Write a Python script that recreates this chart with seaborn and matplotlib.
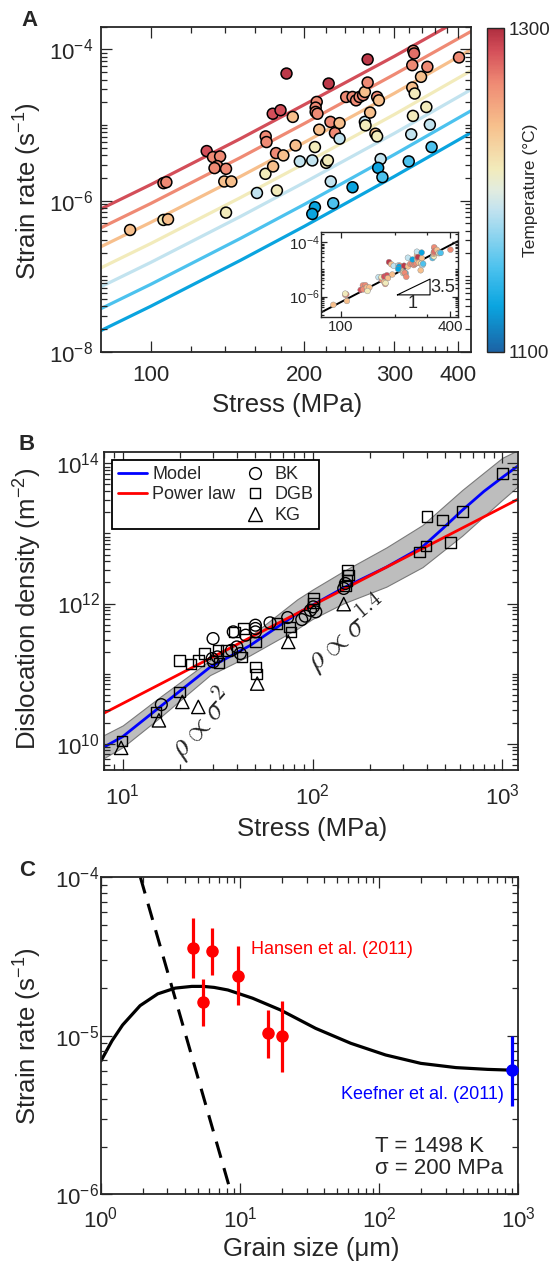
import numpy as np
import pandas as pd
import matplotlib
matplotlib.use("Agg")
import matplotlib.pyplot as plt
import matplotlib.ticker as mticker
from matplotlib.colors import LinearSegmentedColormap, Normalize
from matplotlib.cm import ScalarMappable
from matplotlib.lines import Line2D
import seaborn as sns

### DATA ###

# A: experiments (stress in MPa, strain rate in 1/s, temperature in C)
a_stress = [91.2, 106.0, 107.4, 106.0, 108.2, 128.8, 132.5, 136.8, 135.1, 133.4,
            140.5, 139.4, 143.9, 140.5, 161.5, 168.0, 168.6, 167.8, 173.4, 179.6,
            176.0, 181.9, 173.7, 176.7, 184.5, 189.8, 192.2, 195.9, 207.2, 209.7,
            211.4, 210.4, 210.4, 212.1, 213.8, 220.6, 222.3, 225.2, 209.7, 207.2,
            227.7, 223.1, 224.9, 229.5, 234.3, 234.3, 241.4, 248.4, 252.4, 256.4,
            260.5, 262.6, 248.4, 262.6, 263.4, 265.9, 265.9, 268.9, 277.5, 279.7,
            275.4, 277.5, 281.9, 278.8, 284.2, 320.0, 323.6, 326.1, 325.1, 328.7,
            325.1, 326.6, 327.8, 338.2, 348.0, 346.4, 351.9, 354.7, 401.3]
a_rate = [4.08e-7, 1.70e-6, 1.75e-6, 5.54e-7, 5.65e-7, 4.52e-6, 3.76e-6, 3.84e-6, 2.86e-6, 2.69e-6,
          2.63e-6, 1.79e-6, 1.79e-6, 6.93e-7, 1.26e-6, 7.07e-6, 5.95e-6, 2.26e-6, 1.41e-5, 1.57e-5,
          4.25e-6, 3.96e-6, 2.83e-6, 1.36e-6, 4.80e-5, 1.28e-5, 5.37e-6, 3.30e-6, 3.40e-6, 5.11e-6,
          2.02e-5, 1.70e-5, 1.49e-5, 1.41e-5, 8.67e-6, 3.16e-6, 3.40e-6, 1.79e-6, 8.16e-7, 6.65e-7,
          9.22e-7, 3.54e-5, 1.10e-5, 7.83e-6, 1.06e-5, 6.59e-6, 2.35e-5, 2.35e-5, 2.12e-5, 2.35e-5,
          2.48e-5, 2.74e-5, 1.50e-6, 1.10e-5, 9.90e-6, 3.65e-5, 7.37e-5, 1.46e-5, 2.35e-5, 2.12e-5,
          7.67e-6, 7.07e-6, 3.54e-6, 2.71e-6, 2.04e-6, 3.30e-6, 7.52e-6, 1.32e-5, 3.13e-5, 2.61e-5,
          6.19e-5, 9.60e-5, 8.85e-5, 4.34e-5, 5.89e-5, 1.73e-5, 1.01e-5, 5.11e-6, 7.83e-5]
a_temp = [1240, 1266, 1266, 1213, 1240, 1286, 1266, 1266, 1266, 1266,
          1266, 1240, 1240, 1213, 1188, 1266, 1266, 1213, 1286, 1286,
          1266, 1240, 1240, 1213, 1295, 1240, 1240, 1188, 1188, 1213,
          1266, 1266, 1266, 1266, 1240, 1213, 1213, 1188, 1128, 1128,
          1152, 1295, 1266, 1266, 1240, 1188, 1266, 1266, 1266, 1266,
          1266, 1240, 1128, 1188, 1213, 1266, 1295, 1240, 1266, 1240,
          1240, 1213, 1188, 1128, 1152, 1152, 1188, 1213, 1240, 1213,
          1266, 1266, 1275, 1240, 1266, 1213, 1188, 1152, 1266]

# A: model curves, log10 strain rate at a_curve_stress, one row per temperature
a_curve_temp = [1128, 1152, 1188, 1213, 1240, 1266, 1286]
a_curve_stress = [80, 100, 150, 200, 300, 424]
a_curve_log_rate = [
    [-7.72, -7.40, -6.79, -6.34, -5.68, -5.10],
    [-7.43, -7.11, -6.50, -6.05, -5.39, -4.81],
    [-7.14, -6.82, -6.21, -5.76, -5.11, -4.53],
    [-6.89, -6.57, -5.96, -5.51, -4.86, -4.28],
    [-6.61, -6.29, -5.68, -5.23, -4.58, -4.00],
    [-6.36, -6.04, -5.43, -4.98, -4.33, -3.76],
    [-6.11, -5.79, -5.18, -4.73, -4.09, -3.52],
]

# A inset: rates shifted to one reference temperature (log10 shift above the coldest curve)
inset_ref_shift = 1.19
inset_fit_stress = [78, 440]
inset_fit_rate = [2.58e-7, 1.10e-4]
inset_tri_stress = [205, 310, 310, 205]
inset_tri_rate = [1.15e-6, 1.15e-6, 4.4e-6, 1.15e-6]

# colour scale
cb_temps = [1100, 1128, 1152, 1188, 1200, 1213, 1240, 1266, 1286, 1300]
cb_colors = ["#1b63a5", "#0aa5e0", "#4dc2ee", "#c3e3ef", "#e2ecdf",
             "#f2ebbb", "#f7c08c", "#ef8b74", "#d5505a", "#b02e40"]

# B: dislocation density vs stress
bk_stress = [15.96, 29.9, 29.6, 30.0, 31.5, 37.4, 39.9, 41.6, 38.2, 44.4, 50.0, 50.0, 50.0,
             59.7, 73.9, 87.7, 91.5, 97.5, 100.9, 104, 146, 149]
bk_rho = [3.6e10, 3.16e11, 1.64e11, 1.47e11, 1.73e11, 2.15e11, 2.40e11, 1.93e11, 3.94e11, 3.53e11,
          4.9e11, 4.4e11, 3.94e11, 5.3e11, 6.3e11, 5.9e11, 6.6e11, 8.0e11, 8.96e11, 7.6e11,
          1.64e12, 1.93e12]
dgb_stress = [9.9, 15.0, 19.9, 19.9, 22.9, 25.0, 27.0, 31.8, 32.2, 35.1, 38.7, 43.4, 42.5,
              50.0, 50.0, 50.8, 65.0, 75.5, 77.1, 100.9, 100.9, 149, 154.5, 152.5, 152,
              365, 397, 402, 485, 535, 615, 1000]
dgb_rho = [1.09e10, 2.83e10, 5.47e10, 1.55e11, 1.36e11, 1.55e11, 1.93e11, 2.15e11, 1.42e11,
           2.15e11, 3.94e11, 4.4e11, 1.73e11, 2.83e11, 1.24e11, 9.8e10, 5.2e11, 4.6e11,
           3.94e11, 1.18e12, 1.02e12, 1.77e12, 2.54e12, 2.99e12, 2.15e12, 5.47e12, 6.6e12,
           1.73e13, 1.55e13, 7.36e12, 2.04e13, 7.2e13]
kg_stress = [9.8, 15.5, 20.6, 25.0, 51.1, 74.5, 146]
kg_rho = [8.7e9, 2.15e10, 3.94e10, 3.34e10, 7.2e10, 2.83e11, 9.8e11]

model_stress = [7.94, 10, 15.8, 28.8, 46.8, 83.2, 100, 145, 245, 380, 485, 615, 800, 1000, 1230]
model_rho = [8.9e9, 1.26e10, 3.39e10, 1.23e11, 2.51e11, 7.2e11, 9.5e11, 1.66e12, 3.31e12,
             6.46e12, 1.17e13, 2.14e13, 3.98e13, 6.31e13, 9.5e13]
power_stress = [8, 1216]
power_rho = [2.74e10, 3.1e13]
band_stress = [7.94, 10, 15.8, 28.8, 46.8, 83.2, 100, 145, 245, 380, 615, 1000, 1230]
band_low = [6.2e9, 8.9e9, 2.4e10, 9.5e10, 1.82e11, 4.37e11, 6.03e11, 1.0e12, 1.74e12,
            3.31e12, 9.3e12, 3.02e13, 4.9e13]
band_high = [1.32e10, 1.82e10, 4.68e10, 1.55e11, 3.39e11, 1.15e12, 1.58e12, 2.88e12,
             6.31e12, 1.32e13, 4.17e13, 1.2e14, 1.58e14]

# C: strain rate vs grain size
c_model_size = [1.0, 1.2, 1.43, 1.91, 2.56, 3.42, 4.5, 5.44, 6.5, 8.17, 12.3, 19.5, 34.9,
                62.4, 111, 199, 356, 600, 1000]
c_model_rate = [6.95e-6, 9.3e-6, 1.17e-5, 1.55e-5, 1.84e-5, 2.0e-5, 2.05e-5, 2.05e-5, 2.02e-5,
                1.945e-5, 1.726e-5, 1.455e-5, 1.114e-5, 8.97e-6, 7.57e-6, 6.70e-6, 6.30e-6,
                6.14e-6, 6.05e-6]
c_dash_size = [1.92, 8.66]
c_dash_rate = [1e-4, 1e-6]
hansen_size = [4.57, 5.38, 6.26, 9.62, 15.9, 19.9]
hansen_rate = [3.6e-5, 1.63e-5, 3.43e-5, 2.40e-5, 1.04e-5, 9.9e-6]
hansen_low = [2.31e-5, 1.16e-5, 2.42e-5, 1.57e-5, 7.2e-6, 5.9e-6]
hansen_high = [5.57e-5, 2.29e-5, 4.77e-5, 3.66e-5, 1.46e-5, 1.66e-5]
keefner_size = [900]
keefner_rate = [6.08e-6]
keefner_low = [3.62e-6]
keefner_high = [1.0e-5]

### STYLE ###

W, H = 550, 1270
INK = "#262626"

sns.set_theme(style="white")
plt.rcParams["font.family"] = ["Liberation Sans", "DejaVu Sans"]
plt.rcParams.update({
    "mathtext.fontset": "custom",
    "mathtext.rm": "Liberation Sans",
    "mathtext.it": "Liberation Sans:italic",
    "mathtext.bf": "Liberation Sans:bold",
    "text.color": INK,
    "axes.labelcolor": INK,
    "axes.axisbelow": False,
    "xtick.bottom": True, "xtick.top": True,
    "ytick.left": True, "ytick.right": True,
    "xtick.direction": "in", "ytick.direction": "in",
    "xtick.major.size": 8, "ytick.major.size": 8,
    "xtick.minor.size": 4.5, "ytick.minor.size": 4.5,
    "xtick.major.width": 0.9, "ytick.major.width": 0.9,
    "xtick.minor.width": 0.9, "ytick.minor.width": 0.9,
    "xtick.color": INK, "ytick.color": INK,
})

cmap = LinearSegmentedColormap.from_list(
    "temp", [((t - 1100) / 200, c) for t, c in zip(cb_temps, cb_colors)])
norm = Normalize(1100, 1300)


def rect(l, t, r, b):
    return [l / W, 1 - b / H, (r - l) / W, (b - t) / H]


def fxy(x, y):
    return x / W, 1 - y / H


def frame(ax, lab=16, major=8, minor=4.5):
    for s in ax.spines.values():
        s.set_linewidth(1.3)
        s.set_color(INK)
    ax.tick_params(which="both", direction="in", top=True, right=True, bottom=True,
                   left=True, width=0.9, color=INK, labelcolor=INK, labelsize=lab)
    ax.tick_params(which="major", length=major)
    ax.tick_params(which="minor", length=minor)


def log_ticks(axis, base, subs=np.arange(1, 10)):
    axis.set_major_locator(mticker.LogLocator(base=base))
    axis.set_major_formatter(mticker.LogFormatterSciNotation())
    axis.set_minor_locator(mticker.LogLocator(base=10, subs=subs, numticks=60))
    axis.set_minor_formatter(mticker.NullFormatter())


fig = plt.figure(figsize=(W / 100, H / 100), dpi=100)

### A ###

ax = fig.add_axes(rect(101, 26.7, 470.7, 351.7))
ax.set_xscale("log")
ax.set_yscale("log")
for t, row in zip(a_curve_temp, a_curve_log_rate):
    sns.lineplot(x=a_curve_stress, y=10 ** np.array(row), color=cmap(norm(t)),
                 linewidth=2.3, estimator=None, sort=False, errorbar=None, ax=ax)
dfa = pd.DataFrame({"stress": a_stress, "rate": a_rate, "temp": a_temp})
sns.scatterplot(data=dfa, x="stress", y="rate", hue="temp", palette=cmap, hue_norm=norm,
                s=62, edgecolor="black", linewidth=1.1, legend=False, ax=ax, zorder=3)
ax.set_xlim(80, 423)
ax.set_ylim(1e-8, 2e-4)
frame(ax)
ax.xaxis.set_major_locator(mticker.FixedLocator([100, 200, 300, 400]))
ax.xaxis.set_major_formatter(mticker.FormatStrFormatter("%d"))
ax.xaxis.set_minor_locator(mticker.FixedLocator(np.arange(120, 400, 20)))
ax.xaxis.set_minor_formatter(mticker.NullFormatter())
log_ticks(ax.yaxis, 100)
ax.tick_params(axis="x", pad=9.5)
ax.tick_params(axis="y", pad=5.5)
ax.set_xlabel("Stress (MPa)", fontsize=18.5)
ax.set_ylabel(r"Strain rate (s$^{\mathdefault{-1}}$)", fontsize=18.5)
ax.xaxis.set_label_coords(*fxy(287, 393), transform=fig.transFigure)
ax.yaxis.set_label_coords(*fxy(44, 191), transform=fig.transFigure)

# inset: normalised rates
curve_offset = np.array(a_curve_log_rate).mean(axis=1) - np.mean(a_curve_log_rate[0])
shift = np.interp(a_temp, a_curve_temp, curve_offset)
dfi = dfa.assign(rate=np.array(a_rate) * 10 ** (inset_ref_shift - shift))
axi = fig.add_axes(rect(321, 232.3, 457.7, 316.7))
axi.set_xscale("log")
axi.set_yscale("log")
sns.lineplot(x=inset_fit_stress, y=inset_fit_rate, color="black", linewidth=1.4,
             estimator=None, sort=False, errorbar=None, ax=axi)
sns.scatterplot(data=dfi, x="stress", y="rate", hue="temp", palette=cmap, hue_norm=norm,
                s=17, edgecolor="#8a8a8a", linewidth=0.3, legend=False, ax=axi, zorder=3)
axi.plot(inset_tri_stress, inset_tri_rate, color="black", lw=0.8)
axi.text(312, 2.22e-6, "3.5", fontsize=13, ha="left", va="center")
axi.text(250, 5.4e-7, "1", fontsize=13, ha="center", va="center")
axi.set_xlim(78, 440)
axi.set_ylim(1.8e-7, 2.35e-4)
frame(axi, lab=11, major=4, minor=2.5)
for s in axi.spines.values():
    s.set_linewidth(1.0)
axi.xaxis.set_major_locator(mticker.FixedLocator([100, 400]))
axi.xaxis.set_major_formatter(mticker.FormatStrFormatter("%d"))
axi.xaxis.set_minor_locator(mticker.FixedLocator([200, 300]))
axi.xaxis.set_minor_formatter(mticker.NullFormatter())
log_ticks(axi.yaxis, 100)
axi.tick_params(axis="x", pad=2.5)
axi.tick_params(axis="y", pad=1)
axi.set_xlabel("")
axi.set_ylabel("")

# colour bar
cax = fig.add_axes(rect(487.3, 28.3, 504.3, 351.7))
cb = fig.colorbar(ScalarMappable(norm=norm, cmap=cmap), cax=cax)
cb.set_ticks([1100, 1300])
cb.outline.set_linewidth(1.0)
cb.outline.set_edgecolor(INK)
cax.tick_params(which="both", left=False, labelsize=13.5, length=3, width=0.8,
                direction="in", pad=3, color=INK)
cax.minorticks_off()
cb.set_label("Temperature (°C)", fontsize=12.5)
cax.yaxis.set_label_coords(*fxy(523, 190), transform=fig.transFigure)

### B ###

ax = fig.add_axes(rect(104.2, 452.3, 518.4, 770))
ax.set_xscale("log")
ax.set_yscale("log")
ax.fill_between(band_stress, band_low, band_high, facecolor="#bdbdbd",
                edgecolor="#7a7a7a", linewidth=0.8, zorder=1)
sns.lineplot(x=model_stress, y=model_rho, color="#0000ff", linewidth=2.0,
             estimator=None, sort=False, errorbar=None, ax=ax, zorder=2)
sns.lineplot(x=power_stress, y=power_rho, color="#ff0000", linewidth=2.0,
             estimator=None, sort=False, errorbar=None, ax=ax, zorder=2)
for xs, ys, mk, size in [(bk_stress, bk_rho, "o", 72), (dgb_stress, dgb_rho, "s", 58),
                         (kg_stress, kg_rho, "^", 92)]:
    sns.scatterplot(x=xs, y=ys, marker=mk, s=size, edgecolor="black", linewidth=1.0,
                    ax=ax, zorder=3)
    ax.collections[-1].set_facecolor("none")
ax.text(26.1, 1.93e10, r"$\rho \propto \sigma^2$", math_fontfamily="cm", fontsize=22,
        rotation=48, rotation_mode="anchor", ha="center", va="center")
ax.text(152, 3.73e11, r"$\rho \propto \sigma^{1.4}$", math_fontfamily="cm", fontsize=22,
        rotation=40, rotation_mode="anchor", ha="center", va="center")
ax.set_xlim(7.98, 1216)
ax.set_ylim(4.2e9, 1.44e14)
frame(ax)
log_ticks(ax.xaxis, 10, subs=np.arange(2, 10))
log_ticks(ax.yaxis, 100)
ax.tick_params(axis="x", pad=9.5)
ax.tick_params(axis="y", pad=3)
ax.set_xlabel("Stress (MPa)", fontsize=18.5)
ax.set_ylabel(r"Dislocation density (m$^{\mathdefault{-2}}$)", fontsize=18.5)
ax.xaxis.set_label_coords(*fxy(312, 817), transform=fig.transFigure)
ax.yaxis.set_label_coords(*fxy(44, 609), transform=fig.transFigure)

handles = [Line2D([], [], color="#0000ff", lw=2.0),
           Line2D([], [], color="#ff0000", lw=2.0),
           Line2D([], [], color="none"),
           Line2D([], [], ls="none", marker="o", mfc="none", mec="black", ms=8.5, mew=1.0),
           Line2D([], [], ls="none", marker="s", mfc="none", mec="black", ms=7.6, mew=1.0),
           Line2D([], [], ls="none", marker="^", mfc="none", mec="black", ms=9.6, mew=1.0)]
leg = ax.legend(handles, ["Model", "Power law", "", "BK", "DGB", "KG"], ncol=2,
                loc="upper left", fontsize=13, frameon=True, fancybox=False,
                edgecolor="black", framealpha=1, borderaxespad=0.45, handlelength=1.6,
                handletextpad=0.3, columnspacing=0.3, labelspacing=0.2, borderpad=0.3)
leg.get_frame().set_linewidth(1.3)

### C ###

ax = fig.add_axes(rect(101, 877.3, 518.4, 1194.3))
ax.set_xscale("log")
ax.set_yscale("log")
sns.lineplot(x=c_model_size, y=c_model_rate, color="black", linewidth=2.3,
             estimator=None, sort=False, errorbar=None, ax=ax)
sns.lineplot(x=c_dash_size, y=c_dash_rate, color="black", linewidth=2.2,
             estimator=None, sort=False, errorbar=None, ax=ax)
ax.lines[-1].set_dashes((5.5, 3.5))
hr = np.array(hansen_rate)
ax.errorbar(hansen_size, hr, yerr=[hr - np.array(hansen_low), np.array(hansen_high) - hr],
            fmt="o", color="#ff0000", ms=8, elinewidth=2.3, capsize=0, zorder=4)
kr = np.array(keefner_rate)
ax.errorbar(keefner_size, kr, yerr=[kr - np.array(keefner_low), np.array(keefner_high) - kr],
            fmt="o", color="#0000ff", ms=8, elinewidth=2.3, capsize=0, zorder=4, clip_on=False)
ax.text(11.9, 3.52e-5, "Hansen et al. (2011)", color="#ff0000", fontsize=13,
        ha="left", va="center")
ax.text(789, 4.28e-6, "Keefner et al. (2011)", color="#0000ff", fontsize=13,
        ha="right", va="center")
ax.text(93.8, 1.70e-6, "T = 1498 K\nσ = 200 MPa", fontsize=16, ha="left", va="center",
        linespacing=1.05)
ax.set_xlim(1, 1000)
ax.set_ylim(1e-6, 1e-4)
frame(ax)
log_ticks(ax.xaxis, 10, subs=np.arange(2, 10))
log_ticks(ax.yaxis, 10, subs=np.arange(2, 10))
ax.tick_params(axis="x", pad=9)
ax.tick_params(axis="y", pad=1.5)
ax.set_xlabel("Grain size (μm)", fontsize=18.5)
ax.set_ylabel(r"Strain rate (s$^{\mathdefault{-1}}$)", fontsize=18.5)
ax.xaxis.set_label_coords(*fxy(311, 1237), transform=fig.transFigure)
ax.yaxis.set_label_coords(*fxy(44, 1036), transform=fig.transFigure)

# panel letters
for letter, (px, py) in zip("ABC", [(29, 21), (27, 444), (27, 870)]):
    fig.text(*fxy(px, py), letter, fontsize=16, fontweight="bold", ha="center", va="center")

fig.savefig("out.png", dpi=100)
